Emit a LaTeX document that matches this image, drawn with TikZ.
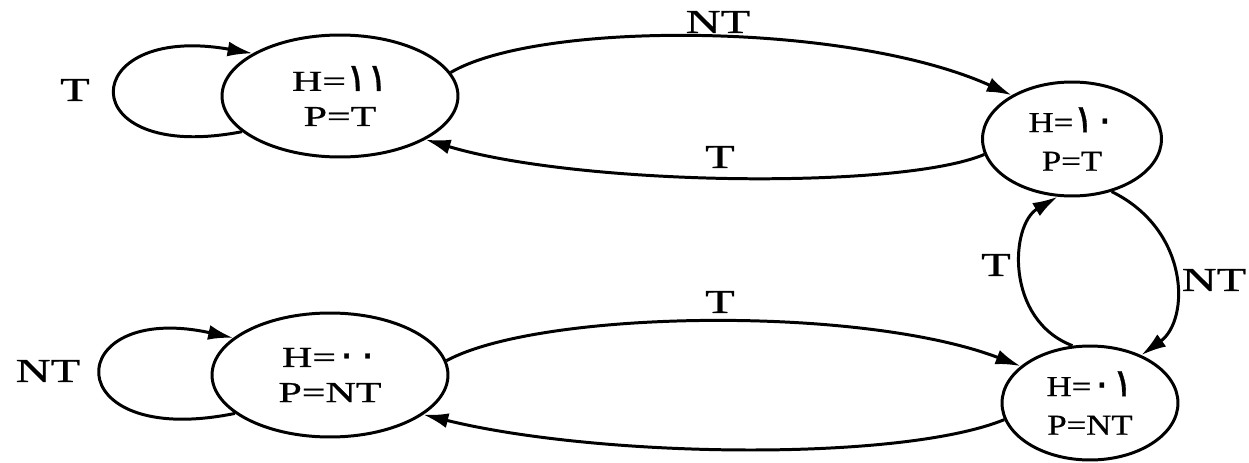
\documentclass[tikz,border=0pt]{standalone}
\usepackage{fontspec}
\setmainfont{Liberation Serif}
\newfontfamily\widefont[FakeStretch=1.45,FakeBold=0.8]{Liberation Serif}
\newfontfamily\narrowfont[FakeStretch=1.2,FakeBold=0.8]{Liberation Serif}
\newfontfamily\ardig[Script=Arabic,Scale=1.35,FakeBold=0.8]{DejaVu Sans}
\usetikzlibrary{shapes.geometric,arrows.meta}
\begin{document}
\begin{tikzpicture}[x=0.02cm,y=-0.02cm, line width=1.7pt,
  state/.style={ellipse, draw, inner sep=0pt, align=center},
  wtext/.style={font=\widefont\fontsize{16.5}{20}\selectfont},
  ntext/.style={font=\narrowfont\fontsize{16.5}{22}\selectfont},
  edge/.style={-{Latex[length=5mm,width=3mm]}},
  lbl/.style={font=\widefont\fontsize{19}{22}\selectfont, inner sep=0pt}]
\useasboundingbox (0,0) rectangle (1249,463);

\node[state, wtext, minimum width=4.72cm, minimum height=2.44cm] (tl) at (340,96) {H={\ardig ١١}\\P=T};
\node[state, ntext, minimum width=3.58cm, minimum height=2.28cm] (tr) at (1072,139) {H={\ardig ١٠}\\P=T};
\node[state, wtext, minimum width=4.72cm, minimum height=2.48cm] (bl) at (330,375) {H={\ardig ٠٠}\\P=NT};
\node[state, ntext, minimum width=3.52cm, minimum height=2.28cm] (br) at (1090,403) {H={\ardig ٠١}\\P=NT};

% self loops
\draw[edge] (tl.200) .. controls (70,165) and (75,22) .. (tl.154);
\draw[edge] (bl.202) .. controls (55,450) and (60,300) .. (bl.159);

% top pair
\draw[edge] (tl.12) .. controls (540,20) and (850,22) .. (tr.144);
\draw[edge] (tr.190) .. controls (900,190) and (580,186) .. (tl.333);

% vertical pair
\draw[edge] (br.107) .. controls (1005,320) and (1010,225) .. (tr.256);
\draw[edge] (tr.307) .. controls (1190,230) and (1190,320) .. (br.43);

% bottom pair
\draw[edge] (bl.7) .. controls (540,310) and (860,305) .. (br.152);
\draw[edge] (br.191) .. controls (900,462) and (600,458) .. (bl.337);

% labels
\node[lbl] (l1) at (75,90) {T};
\node[lbl] (l2) at (48,371) {NT};
\node[lbl] (l3) at (718,22) {NT};
\node[lbl] (l4) at (720,157) {T};
\node[lbl] (l5) at (996,265) {T};
\node[lbl] (l6) at (1214,280) {NT};
\node[lbl] (l7) at (720,302) {T};
\end{tikzpicture}
\end{document}
